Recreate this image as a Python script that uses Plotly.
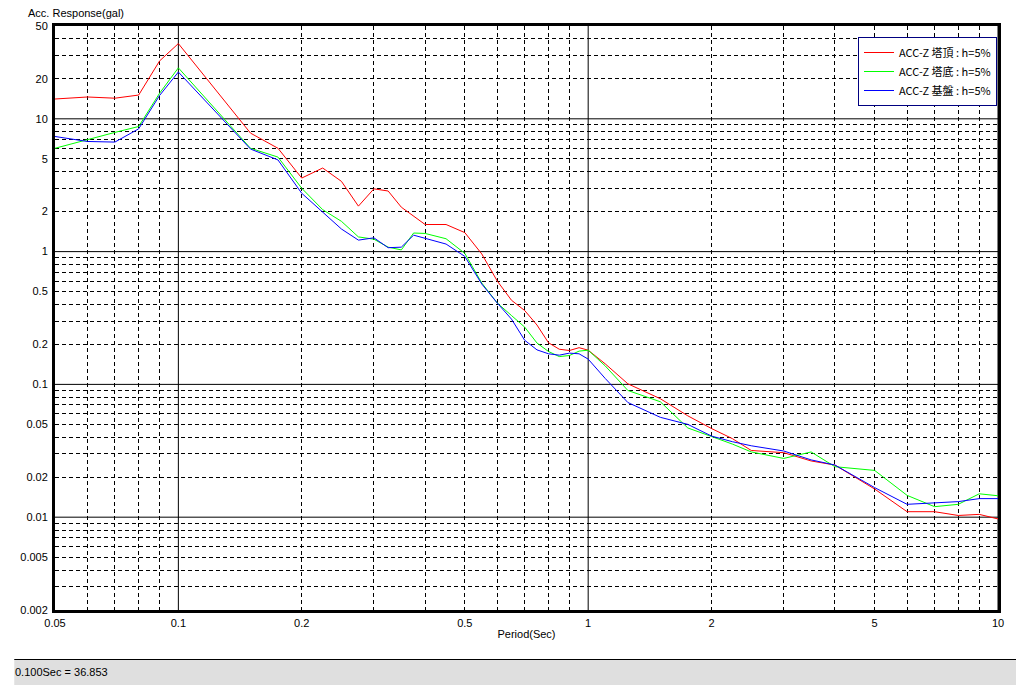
import math
import plotly.graph_objects as go

# ---- data ----
periods = [0.05, 0.06, 0.07, 0.08, 0.09, 0.10, 0.15, 0.175, 0.20, 0.225, 0.25, 0.275,
           0.30, 0.325, 0.35, 0.375, 0.40, 0.45, 0.50, 0.55, 0.60, 0.65, 0.70, 0.75,
           0.80, 0.85, 0.90, 0.95, 1.00, 1.10, 1.25, 1.50, 1.75, 2.00, 2.25, 2.50,
           3.00, 3.50, 4.00, 5.00, 6.00, 7.00, 8.00, 9.00, 10.0]

acc_top = [14.1, 14.6, 14.3, 15.1, 27.3, 36.853, 7.8, 6.0, 3.58, 4.26, 3.38, 2.2,
           2.97, 2.86, 2.16, 1.85, 1.60, 1.60, 1.39, 0.96, 0.60, 0.43, 0.36, 0.28,
           0.206, 0.184, 0.180, 0.189, 0.181, 0.143, 0.101, 0.078, 0.058, 0.0465, 0.039, 0.0318,
           0.0306, 0.0265, 0.0247, 0.0163, 0.0110, 0.0110, 0.0103, 0.0105, 0.0097]

acc_bottom = [6.0, 7.0, 7.9, 8.75, 15.6, 24.2, 6.0, 5.15, 3.0, 2.07, 1.69, 1.29,
              1.24, 1.08, 1.03, 1.38, 1.37, 1.25, 0.97, 0.58, 0.41, 0.33, 0.27, 0.205,
              0.177, 0.162, 0.165, 0.178, 0.181, 0.138, 0.090, 0.074, 0.047, 0.0405, 0.0355, 0.031,
              0.0277, 0.031, 0.024, 0.0225, 0.0146, 0.0120, 0.0125, 0.0150, 0.0145]

acc_ground = [7.36, 6.75, 6.68, 8.4, 15.0, 22.5, 5.92, 4.9, 2.75, 2.0, 1.48, 1.22,
              1.27, 1.07, 1.08, 1.33, 1.26, 1.14, 0.92, 0.57, 0.41, 0.31, 0.215, 0.182,
              0.170, 0.166, 0.172, 0.170, 0.155, 0.111, 0.073, 0.0565, 0.050, 0.0408, 0.037, 0.0345,
              0.0315, 0.027, 0.0247, 0.0167, 0.0125, 0.0129, 0.0131, 0.0138, 0.0138]

series_names = ["ACC-Z 塔頂 : h=5%", "ACC-Z 塔底 : h=5%", "ACC-Z 基盤 : h=5%"]
series_colors = ["#ff0000", "#00ff00", "#0000ff"]

x_ticks = [0.05, 0.1, 0.2, 0.5, 1, 2, 5, 10]
x_tick_text = ["0.05", "0.1", "0.2", "0.5", "1", "2", "5", "10"]
y_ticks = [50, 20, 10, 5, 2, 1, 0.5, 0.2, 0.1, 0.05, 0.02, 0.01, 0.005, 0.002]
y_tick_text = ["50", "20", "10", "5", "2", "1", "0.5", "0.2", "0.1", "0.05", "0.02", "0.01", "0.005", "0.002"]

x_decades = [0.1, 1, 10]
y_decades = [0.01, 0.1, 1, 10]
x_minor = [m * d for d in [0.01, 0.1, 1] for m in range(2, 10) if 0.05 < m * d < 10]
y_minor = [m * d for d in [0.001, 0.01, 0.1, 1, 10] for m in range(2, 10) if 0.002 < m * d < 50]

status_text = "0.100Sec = 36.853"

# ---- figure (page has an 8px body margin, so the figure is shifted) ----
OFF = 8
W, H = 1024 - OFF, 685 - OFF
L, R, T, B = 49 - OFF, 26, 26 - OFF, 75
PW, PH = W - L - R, H - T - B


def px(xp):  # page pixel -> paper x
    return (xp - OFF - L) / PW


def py(yp):  # page pixel -> paper y
    return (H - B - (yp - OFF)) / PH


FONT = "Liberation Sans"
fig = go.Figure()
for name, col, vals in zip(series_names, series_colors, [acc_top, acc_bottom, acc_ground]):
    fig.add_trace(go.Scatter(x=periods, y=vals, mode="lines", name=name,
                             line=dict(color=col, width=1)))

shapes = []
for xv in x_decades:
    shapes.append(dict(type="line", xref="x", yref="paper", x0=xv, x1=xv, y0=0, y1=1,
                       line=dict(color="black", width=1), layer="below"))
for yv in y_decades:
    shapes.append(dict(type="line", xref="paper", yref="y", x0=0, x1=1, y0=yv, y1=yv,
                       line=dict(color="black", width=1), layer="below"))
# status bar and window frame (right and bottom edges)
shapes.append(dict(type="rect", xref="paper", yref="paper", x0=px(OFF), x1=px(1024),
                   y0=py(685), y1=py(660), line=dict(width=0), fillcolor="#dfdfdf", layer="below"))
shapes.append(dict(type="line", xref="paper", yref="paper", x0=px(OFF), x1=px(1022.5),
                   y0=py(659.5), y1=py(659.5), line=dict(color="black", width=1), layer="below"))
shapes.append(dict(type="line", xref="paper", yref="paper", x0=px(1022.5), x1=px(1022.5),
                   y0=py(659.5), y1=py(OFF), line=dict(color="black", width=1), layer="below"))

fig.update_layout(
    width=W, height=H,
    margin=dict(l=L, r=R, t=T, b=B, pad=0),
    paper_bgcolor="white", plot_bgcolor="white",
    font=dict(family=FONT, size=11, color="black"),
    shapes=shapes,
    showlegend=True,
    legend=dict(x=px(997), y=py(37), xanchor="right", yanchor="top",
                bgcolor="white", bordercolor="#000080", borderwidth=1,
                font=dict(family="Noto Sans CJK JP", size=11, color="black"),
                tracegroupgap=0, itemwidth=30),
    xaxis=dict(type="log", range=[math.log10(0.05), 1],
               tickmode="array", tickvals=x_ticks, ticktext=x_tick_text,
               showgrid=False, zeroline=False,
               showline=True, linewidth=3, linecolor="black", mirror=True,
               ticks="", ticklabelstandoff=1,
               minor=dict(tickmode="array", tickvals=x_minor, showgrid=True,
                          gridcolor="black", gridwidth=1, griddash="4px,3px", ticks=""),
               title=dict(text="Period(Sec)", standoff=3, font=dict(size=11))),
    yaxis=dict(type="log", range=[math.log10(0.002), math.log10(50)],
               tickmode="array", tickvals=y_ticks, ticktext=y_tick_text,
               showgrid=False, zeroline=False,
               showline=True, linewidth=3, linecolor="black", mirror=True,
               ticks="", ticklabelstandoff=2,
               minor=dict(tickmode="array", tickvals=y_minor, showgrid=True,
                          gridcolor="black", gridwidth=1, griddash="4px,3px", ticks="")),
    annotations=[
        dict(text="Acc. Response(gal)", xref="paper", yref="paper", x=px(20), y=py(13),
             xanchor="left", yanchor="middle", showarrow=False, font=dict(size=11)),
        dict(text=status_text, xref="paper", yref="paper", x=px(OFF), y=py(672),
             xanchor="left", yanchor="middle", showarrow=False, font=dict(size=11),
             borderpad=0),
    ],
)

fig.write_html("out.html")
